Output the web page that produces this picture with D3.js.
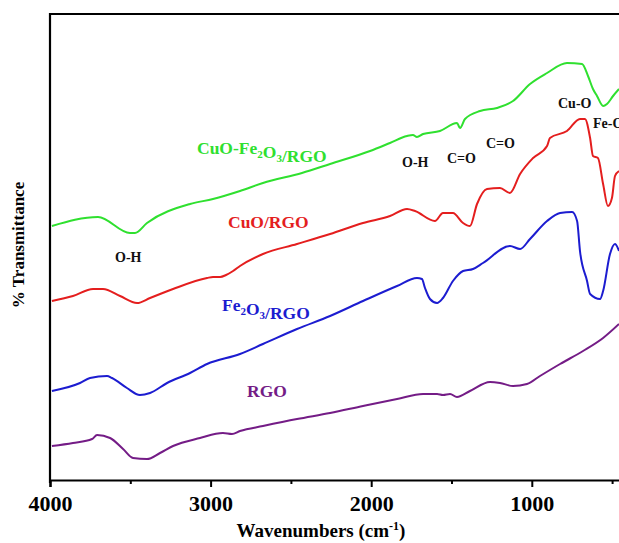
<!DOCTYPE html>
<html lang="en">
<head>
<meta charset="utf-8">
<title>FTIR spectra</title>
<style>
  body { margin: 0; background: #fff; }
  svg text { font-family: "Liberation Serif", "Times New Roman", serif; font-weight: bold; }
</style>
</head>
<body>
<svg id="chart" width="619" height="543"></svg>
<script src="https://d3js.org/d3.v7.min.js"></script>
<script>
// wavenumber (cm-1) and transmittance (arbitrary, offset stacked)
const greenWn = [3988, 3701, 3502, 3471, 3396, 3128, 2985, 2817, 2674, 2431, 2256, 2007, 1883, 1777, 1740, 1715, 1677, 1572, 1466, 1447, 1416, 1322, 1217, 1117, 1011, 905, 781, 687, 650, 619, 594, 556, 532, 494, 457];
const greenT  = [254, 263, 247, 247, 257, 276, 281, 289, 297, 307, 316, 329, 337, 344, 345, 343, 346, 349, 357, 352, 361, 369, 372, 379, 396, 407, 417, 416, 404, 391, 384, 374, 376, 384, 391];

const redWn = [3988, 3857, 3732, 3670, 3564, 3458, 3377, 3234, 3022, 2985, 2941, 2904, 2860, 2817, 2674, 2462, 2256, 2051, 1883, 1777, 1727, 1603, 1553, 1491, 1428, 1385, 1341, 1279, 1198, 1136, 1073, 992, 905, 887, 781, 700, 669, 637, 619, 588, 556, 526, 501, 482, 457];
const redT  = [179, 184, 191, 191, 184, 177, 182, 191, 202, 203, 203, 205, 209, 214, 226, 236, 246, 257, 264, 271, 269, 259, 267, 267, 257, 254, 276, 291, 292, 287, 306, 322, 334, 342, 349, 361, 361, 342, 324, 322, 296, 274, 282, 304, 309];

const blueWn = [3988, 3813, 3751, 3645, 3614, 3521, 3440, 3377, 3271, 3128, 3022, 2817, 2674, 2462, 2256, 2051, 1839, 1715, 1684, 1665, 1634, 1590, 1553, 1491, 1428, 1366, 1304, 1136, 1073, 1011, 905, 824, 749, 718, 700, 656, 637, 575, 556, 513, 482, 457];
const blueT  = [89, 97, 102, 104, 102, 92, 85, 87, 97, 107, 116, 126, 136, 151, 164, 179, 194, 202, 201, 192, 181, 177, 182, 199, 209, 211, 217, 234, 231, 241, 259, 267, 268, 259, 229, 199, 186, 181, 189, 226, 236, 229];

const rgoWn = [3988, 3857, 3738, 3707, 3626, 3545, 3483, 3396, 3315, 3234, 3066, 2923, 2867, 2817, 2674, 2462, 2256, 2051, 1839, 1677, 1590, 1553, 1509, 1466, 1385, 1260, 1198, 1117, 1030, 949, 824, 681, 556, 457];
const rgoT  = [34, 37, 41, 45, 42, 31, 22, 21, 27, 34, 42, 47, 46, 49, 54, 61, 67, 74, 81, 86, 86, 85, 86, 83, 89, 98, 97, 94, 96, 104, 116, 129, 142, 156];

const xTicks = [4000, 3000, 2000, 1000];
const xMinorTicks = [3500, 2500, 1500, 500];

const seriesNames = ["CuO-Fe2O3/RGO", "CuO/RGO", "Fe2O3/RGO", "RGO"];
const seriesColors = ["#2fe02f", "#e41e1e", "#1c1cd0", "#741c86"];

const series = [
  { wn: greenWn, t: greenT },
  { wn: redWn, t: redT },
  { wn: blueWn, t: blueT },
  { wn: rgoWn, t: rgoT }
];

const svg = d3.select("#chart");
const margin = { left: 50, top: 14, bottom: 480 };

const x = d3.scaleLinear().domain([4000, 400]).range([margin.left, margin.left + 3600 * 0.1606]);
const y = d3.scaleLinear().domain([0, 466]).range([margin.bottom, margin.top]);

const line = d3.line()
  .x(d => x(d[0]))
  .y(d => y(d[1]))
  .curve(d3.curveMonotoneX);

series.forEach((s, i) => {
  const pts = s.wn.map((w, j) => [w, s.t[j]]);
  svg.append("path")
    .datum(pts)
    .attr("d", line)
    .attr("fill", "none")
    .attr("stroke", seriesColors[i])
    .attr("stroke-width", 2)
    .attr("stroke-linejoin", "round");
});

// frame
svg.append("line")
  .attr("x1", margin.left).attr("x2", 619)
  .attr("y1", margin.top).attr("y2", margin.top)
  .attr("stroke", "#000").attr("stroke-width", 2.2);
svg.append("line")
  .attr("x1", margin.left).attr("x2", margin.left)
  .attr("y1", margin.top - 1).attr("y2", margin.bottom + 3)
  .attr("stroke", "#000").attr("stroke-width", 2.2);

// bottom axis
const xAxis = d3.axisBottom(x)
  .tickValues(xTicks)
  .tickSize(7)
  .tickPadding(8)
  .tickFormat(d3.format("d"));

const gx = svg.append("g")
  .attr("transform", `translate(0,${margin.bottom})`)
  .call(xAxis);
gx.select(".domain").attr("stroke-width", 2.2);
gx.selectAll(".tick line").attr("stroke-width", 2);
gx.selectAll(".tick text")
  .attr("font-size", 22)
  .attr("fill", "#000");

const gxm = svg.append("g")
  .attr("transform", `translate(0,${margin.bottom})`)
  .call(d3.axisBottom(x).tickValues(xMinorTicks).tickSize(4).tickFormat(""));
gxm.select(".domain").remove();
gxm.selectAll(".tick line").attr("stroke-width", 2);

// axis titles
const xt = svg.append("text")
  .attr("x", 321)
  .attr("y", 537)
  .attr("text-anchor", "middle")
  .attr("font-size", 19)
  .attr("fill", "#000");
xt.append("tspan").text("Wavenumbers (cm");
xt.append("tspan").attr("font-size", 12).attr("dy", -7).text("-1");
xt.append("tspan").attr("dy", 7).text(")");

svg.append("text")
  .attr("transform", "translate(24,245) rotate(-90)")
  .attr("text-anchor", "middle")
  .attr("font-size", 17)
  .attr("fill", "#000")
  .text("% Transmittance");

// series labels with subscripts
function labelWithSubs(xPos, yPos, parts, color) {
  const t = svg.append("text")
    .attr("x", xPos).attr("y", yPos)
    .attr("font-size", 17.5)
    .attr("fill", color);
  parts.forEach(p => {
    if (p.sub) {
      t.append("tspan").attr("font-size", 11).attr("dy", 4).text(p.s);
      t.append("tspan").attr("dy", -4).text("");
    } else {
      t.append("tspan").text(p.s);
    }
  });
}

labelWithSubs(197, 154, [{ s: "CuO-Fe" }, { s: "2", sub: true }, { s: "O" }, { s: "3", sub: true }, { s: "/RGO" }], seriesColors[0]);
labelWithSubs(228, 228, [{ s: seriesNames[1] }], seriesColors[1]);
labelWithSubs(222, 311, [{ s: "Fe" }, { s: "2", sub: true }, { s: "O" }, { s: "3", sub: true }, { s: "/RGO" }], seriesColors[2]);
labelWithSubs(247, 397, [{ s: seriesNames[3] }], seriesColors[3]);

// band annotations
const bands = [
  { label: "O-H", x: 115, y: 262 },
  { label: "O-H", x: 402, y: 167 },
  { label: "C=O", x: 447, y: 163 },
  { label: "C=O", x: 486, y: 148 },
  { label: "Cu-O", x: 558, y: 108 },
  { label: "Fe-O", x: 593, y: 128 }
];
svg.selectAll(".band").data(bands)
  .join("text")
  .attr("class", "band")
  .attr("x", d => d.x)
  .attr("y", d => d.y)
  .attr("font-size", 14)
  .attr("fill", "#111")
  .text(d => d.label);
</script>
</body>
</html>
